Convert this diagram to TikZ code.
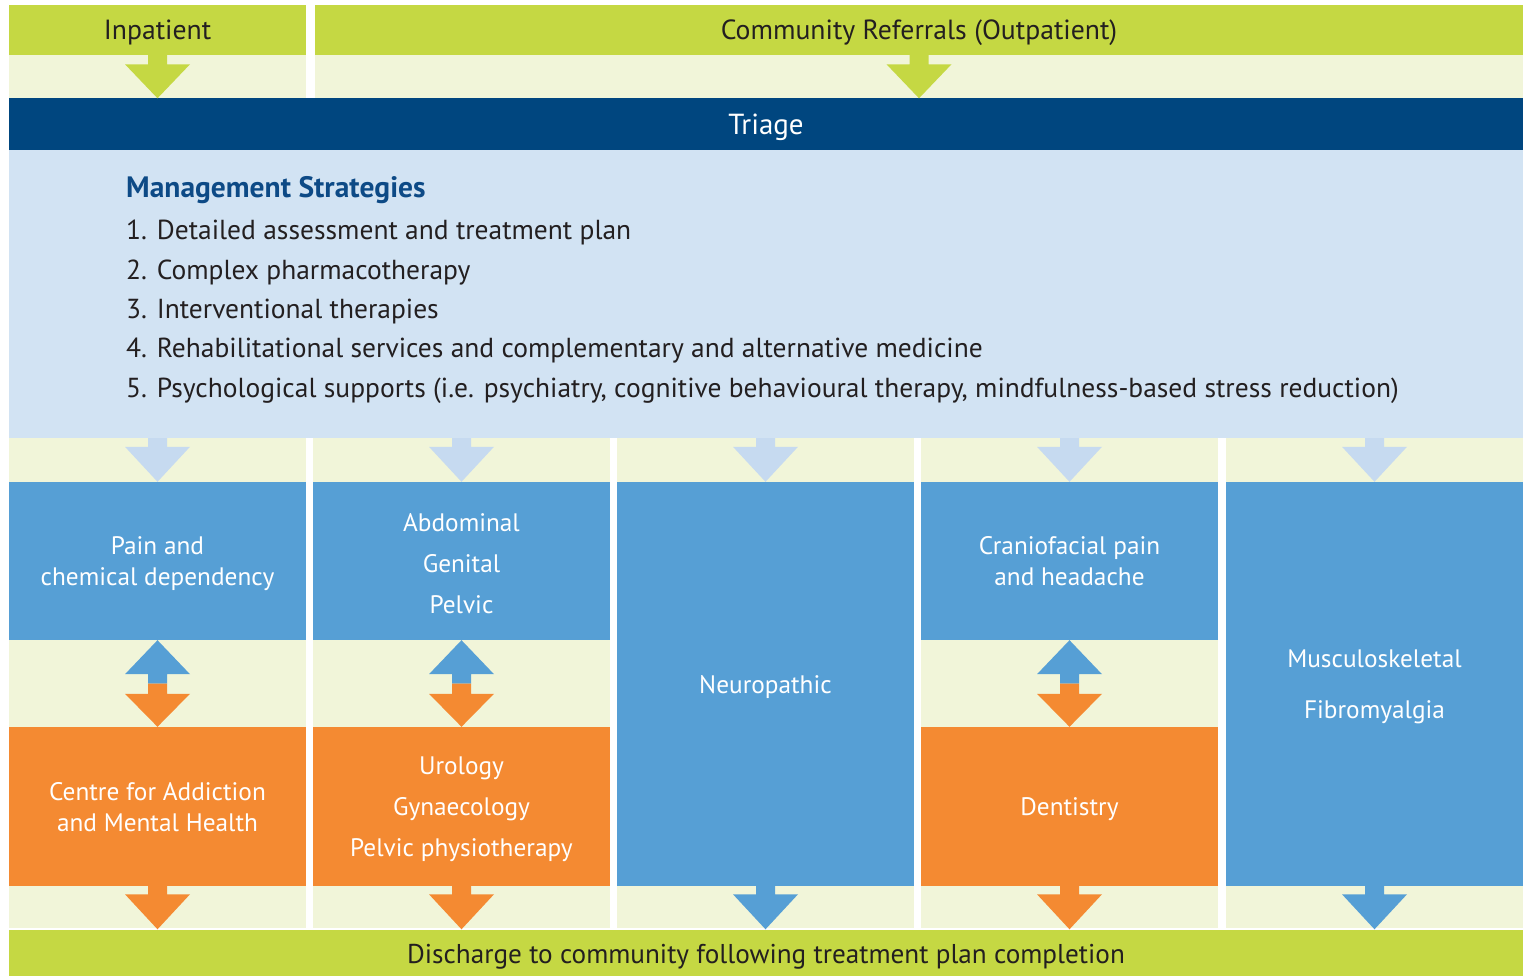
\documentclass[tikz,border=0pt]{standalone}
\usepackage{fontspec}
\setmainfont{PT Sans}
\usetikzlibrary{calc}
\definecolor{cgreen}{HTML}{C5D843}
\definecolor{cpale}{HTML}{F1F5D9}
\definecolor{cnavy}{HTML}{00467F}
\definecolor{clight}{HTML}{D2E3F3}
\definecolor{carrowl}{HTML}{C6DAF0}
\definecolor{cblue}{HTML}{569FD5}
\definecolor{corange}{HTML}{F48A32}
\definecolor{ctext}{HTML}{231F20}
\definecolor{chead}{HTML}{0D4A86}
% #1 colour, #2 stem start, #3 tip, #4 head offset (negative = pointing down)
\newcommand\vArr[4]{\fill[#1] (#3) -- ($(#3)+(-32.5,#4)$) -- ($(#3)+(-9.5,#4)$) -- ($(#2)+(-9.5,0)$) -- ($(#2)+(9.5,0)$) -- ($(#3)+(9.5,#4)$) -- ($(#3)+(32.5,#4)$) -- cycle;}
\begin{document}
\begin{tikzpicture}[x=1pt,y=-1pt,
  bar/.style={rectangle, inner sep=0pt, fill=cgreen, text=ctext, font=\fontsize{27.7}{32}\selectfont, text height=19.5pt, text depth=0pt},
  navybar/.style={rectangle, inner sep=0pt, fill=cnavy, text=white, font=\fontsize{29}{32}\selectfont, text height=20pt, text depth=0pt},
  shapebox/.style={rectangle, inner sep=0pt, minimum width=297pt},
  boxtext/.style={inner sep=0pt, text=white, align=center, font=\fontsize{25.3}{31}\selectfont, yshift=-3pt},
  listline/.style={anchor=base west, inner sep=0pt, text=ctext, font=\fontsize{27.5}{33}\selectfont},
  paleband/.style={fill=cpale}
]
\useasboundingbox (0,0) rectangle (1527,976);
\fill[white] (0,0) rectangle (1527,976);
% pale backgrounds
\fill[paleband] (9,55) rectangle (306,98);
\fill[paleband] (315,55) rectangle (1523,98);
\foreach \l in {9,313,617,921,1226} {\fill[paleband] (\l,438) rectangle ++(297,490);}
% top bars
\node[bar, minimum width=297pt, minimum height=50pt] (inp) at (157.5,30) {Inpatient};
\node[bar, minimum width=1208pt, minimum height=50pt] (comm) at (919,30) {Community Referrals (Outpatient)};
\node[navybar, minimum width=1514pt, minimum height=52pt] (tri) at (766,124.5) {Triage};
\node[rectangle, inner sep=0pt, fill=clight, minimum width=1514pt, minimum height=288pt] (mgmt) at (766,294) {};
\node[listline, font=\fontsize{29.5}{33}\selectfont\bfseries, text=chead] (mh) at (126,198) {Management Strategies};
\node[listline] (l1) at (126,240) {1. Detailed assessment and treatment plan};
\node[listline] (l2) at (126,279.3) {2. Complex pharmacotherapy};
\node[listline] (l3) at (126,318.6) {3. Interventional therapies};
\node[listline] (l4) at (126,357.9) {4. Rehabilitational services and complementary and alternative medicine};
\node[listline] (l5) at (126,397.2) {5. Psychological supports (i.e. psychiatry, cognitive behavioural therapy, mindfulness-based stress reduction)};
% category boxes
\node[shapebox, fill=cblue, minimum height=158pt] (b1) at (157.5,561) {};
\node[shapebox, fill=cblue, minimum height=158pt] (b2) at (461.5,561) {};
\node[shapebox, fill=cblue, minimum height=404pt] (b3) at (765.5,684) {};
\node[shapebox, fill=cblue, minimum height=158pt] (b4) at (1069.5,561) {};
\node[shapebox, fill=cblue, minimum height=404pt] (b5) at (1374.5,684) {};
\node[shapebox, fill=corange, minimum height=159pt] (o1) at (157.5,806.5) {};
\node[shapebox, fill=corange, minimum height=159pt] (o2) at (461.5,806.5) {};
\node[shapebox, fill=corange, minimum height=159pt] (o4) at (1069.5,806.5) {};
\node[boxtext] (b1t) at (b1.center) {Pain and\\chemical dependency};
\node[boxtext, font=\fontsize{25.3}{41}\selectfont] (b2t) at (b2.center) {Abdominal\\Genital\\Pelvic};
\node[boxtext] (b3t) at (b3.center) {Neuropathic};
\node[boxtext, yshift=3pt] (b4t) at (b4.center) {Craniofacial pain\\and headache};
\node[boxtext, font=\fontsize{25.3}{51}\selectfont] (b5t) at (b5.center) {Musculoskeletal\\Fibromyalgia};
\node[boxtext, yshift=2pt] (o1t) at (o1.center) {Centre for Addiction\\and Mental Health};
\node[boxtext, font=\fontsize{25.3}{41}\selectfont] (o2t) at (o2.center) {Urology\\Gynaecology\\Pelvic physiotherapy};
\node[boxtext] (o4t) at (o4.center) {Dentistry};
\node[bar, minimum width=1514pt, minimum height=48pt, yshift=-1.5pt, font=\fontsize{27.2}{32}\selectfont] (dis) at (766,952) {Discharge to community following treatment plan completion};
% arrows: top
\coordinate (t1) at (inp.south |- tri.north);
\coordinate (t2) at (comm.south |- tri.north);
\vArr{cgreen}{inp.south}{t1}{-34}
\vArr{cgreen}{comm.south}{t2}{-34}
% arrows from management strategies
\foreach \b in {b1,b2,b3,b4,b5} {
  \coordinate (s\b) at (\b.north |- mgmt.south);
  \vArr{carrowl}{s\b}{\b.north}{-35}
}
% double arrows
\foreach \b/\o in {b1/o1,b2/o2,b4/o4} {
  \coordinate (m\b) at ($(\b.south)!0.5!(\o.north)$);
  \vArr{cblue}{m\b}{\b.south}{34}
  \vArr{corange}{m\b}{\o.north}{-33}
}
% arrows to discharge
\foreach \n/\c in {o1/corange,o2/corange,b3/cblue,o4/corange,b5/cblue} {
  \coordinate (d\n) at (\n.south |- dis.north);
  \vArr{\c}{\n.south}{d\n}{-35}
}
\end{tikzpicture}
\end{document}
